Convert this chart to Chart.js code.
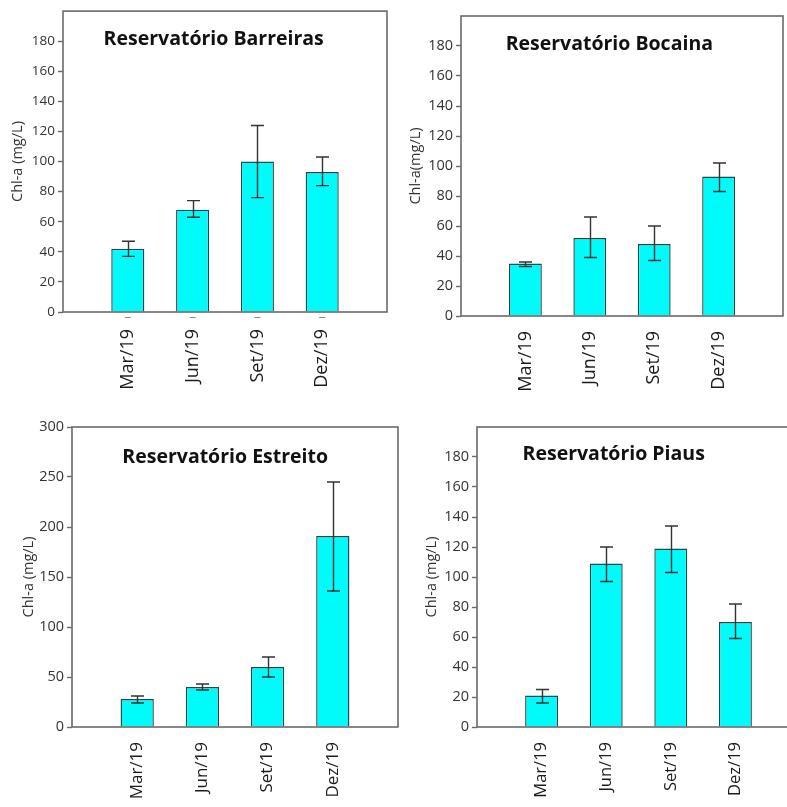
<!DOCTYPE html>
<html>
<head>
<meta charset="utf-8">
<script src="https://cdn.jsdelivr.net/npm/chart.js@4.4.1/dist/chart.umd.min.js"></script>
<style>
  html, body { margin: 0; padding: 0; background: #fff; width: 787px; height: 807px; overflow: hidden; }
  canvas { position: absolute; }
</style>
</head>
<body>
<canvas id="barreiras" width="395" height="400" style="left:0;top:0"></canvas>
<canvas id="bocaina" width="392" height="400" style="left:395px;top:0"></canvas>
<canvas id="estreito" width="400" height="407" style="left:0;top:400px"></canvas>
<canvas id="piaus" width="420" height="407" style="left:395px;top:400px"></canvas>
<script>
// Sampling campaigns
const categories = ['Mar/19', 'Jun/19', 'Set/19', 'Dez/19'];

// Chlorophyll-a means and error-bar limits per reservoir
const barreirasMean = [42, 68, 100, 93];
const barreirasLow  = [37, 63, 76, 84];
const barreirasHigh = [47, 74, 124, 103];

const bocainaMean = [35, 52, 48, 93];
const bocainaLow  = [33, 39, 37, 83];
const bocainaHigh = [36, 66, 60, 102];

const estreitoMean = [28, 40, 60, 191];
const estreitoLow  = [24, 37, 50, 136];
const estreitoHigh = [31, 43, 70, 245];

const piausMean = [21, 109, 119, 70];
const piausLow  = [16, 97, 103, 59];
const piausHigh = [25, 120, 134, 82];

// Y tick values
const ticks180 = [0, 20, 40, 60, 80, 100, 120, 140, 160, 180];
const ticks300 = [0, 50, 100, 150, 200, 250, 300];

const FONT = "'Open Sans', 'DejaVu Sans', sans-serif";

// Whiskers drawn through the value scale
const errorBars = {
  id: 'errorBars',
  afterDatasetsDraw(chart, args, opts) {
    const ctx = chart.ctx;
    const y = chart.scales.y;
    const meta = chart.getDatasetMeta(0);
    ctx.save();
    ctx.strokeStyle = '#333';
    ctx.lineWidth = 1.4;
    meta.data.forEach((bar, i) => {
      const x = Math.round(bar.x) + 0.5;
      const yl = y.getPixelForValue(opts.low[i]);
      const yh = y.getPixelForValue(opts.high[i]);
      const cap = 6.5;
      ctx.beginPath();
      ctx.moveTo(x, yl); ctx.lineTo(x, yh);
      ctx.moveTo(x - cap, yh); ctx.lineTo(x + cap, yh);
      ctx.moveTo(x - cap, yl); ctx.lineTo(x + cap, yl);
      ctx.stroke();
    });
    ctx.restore();
  }
};

// Box around the plot area and the panel heading
const frameAndHeading = {
  id: 'frameAndHeading',
  afterDraw(chart, args, opts) {
    const ctx = chart.ctx;
    const a = chart.chartArea;
    ctx.save();
    ctx.strokeStyle = '#6a6a6a';
    ctx.lineWidth = 1.6;
    ctx.strokeRect(a.left, a.top, a.right - a.left, a.bottom - a.top);
    if (opts.marks) {
      const x = chart.scales.x;
      ctx.strokeStyle = '#8a8a8a';
      ctx.lineWidth = 1;
      categories.forEach((c, i) => {
        const px = x.getPixelForValue(i + 1);
        ctx.beginPath();
        ctx.moveTo(px - 3, a.bottom + 5.5);
        ctx.lineTo(px + 3, a.bottom + 5.5);
        ctx.stroke();
      });
    }
    ctx.fillStyle = '#111';
    ctx.font = 'bold ' + opts.size + 'px ' + FONT;
    ctx.textAlign = 'center';
    ctx.textBaseline = 'alphabetic';
    ctx.fillText(opts.text, a.left + opts.dx, a.top + opts.dy);
    ctx.restore();
  }
};

function panel(id, p) {
  const points = categories.map((c, i) => ({ x: i + 1, y: p.mean[i] }));
  return new Chart(document.getElementById(id), {
    type: 'bar',
    data: {
      datasets: [{
        data: points,
        backgroundColor: '#00fbfb',
        borderColor: '#24484a',
        borderWidth: 1.4,
        barPercentage: 0.51,
        categoryPercentage: 1
      }]
    },
    options: {
      responsive: false,
      animation: false,
      layout: { padding: { top: p.top, right: p.right, left: 0, bottom: 0 } },
      plugins: {
        legend: { display: false },
        tooltip: { enabled: false },
        errorBars: { low: p.low, high: p.high },
        frameAndHeading: { text: p.title, size: p.titleSize, dx: p.titleDx, dy: p.titleDy, marks: p.marks }
      },
      scales: {
        x: {
          type: 'linear',
          min: 0,
          max: categories.length + 1,
          offset: false,
          grid: { display: false, drawTicks: false },
          border: { display: false },
          afterBuildTicks: s => { s.ticks = categories.map((c, i) => ({ value: i + 1 })); },
          afterFit: s => { s.height = p.xHeight; },
          ticks: {
            autoSkip: false,
            minRotation: 90,
            maxRotation: 90,
            padding: p.xPad,
            color: '#1a1a1a',
            font: { family: FONT, size: p.xFont },
            callback: v => categories[v - 1] || ''
          }
        },
        y: {
          min: 0,
          max: p.yMax,
          grid: { drawOnChartArea: false, drawTicks: true, tickLength: 5, tickColor: '#6a6a6a', tickWidth: 1.4 },
          border: { display: false },
          afterBuildTicks: s => { s.ticks = p.ticks.map(v => ({ value: v })); },
          afterFit: s => { s.width = p.yWidth; },
          ticks: {
            padding: 3,
            color: '#333',
            font: { family: FONT, size: p.tickFont }
          },
          title: {
            display: true,
            text: p.yTitle,
            color: '#333',
            font: { family: FONT, size: 14.5 },
            padding: { top: p.yTitlePad, bottom: 0 }
          }
        }
      }
    },
    plugins: [errorBars, frameAndHeading]
  });
}

panel('barreiras', {
  mean: barreirasMean, low: barreirasLow, high: barreirasHigh,
  title: 'Reservatório Barreiras', titleSize: 19.5, titleDx: 150.7, titleDy: 34,
  yTitle: 'Chl-a (mg/L)', yTitlePad: 9, yMax: 200, ticks: ticks180,
  top: 11, right: 8, yWidth: 63, xHeight: 88, xPad: 17, xFont: 18, tickFont: 13.5, marks: true
});

panel('bocaina', {
  mean: bocainaMean, low: bocainaLow, high: bocainaHigh,
  title: 'Reservatório Bocaina', titleSize: 19.5, titleDx: 148.3, titleDy: 34.3,
  yTitle: 'Chl-a(mg/L)', yTitlePad: 12.5, yMax: 200, ticks: ticks180,
  top: 16, right: 4, yWidth: 66, xHeight: 84, xPad: 15, xFont: 18, tickFont: 14.5, marks: false
});

panel('estreito', {
  mean: estreitoMean, low: estreitoLow, high: estreitoHigh,
  title: 'Reservatório Estreito', titleSize: 19.5, titleDx: 153.2, titleDy: 36,
  yTitle: 'Chl-a (mg/L)', yTitlePad: 20.5, yMax: 300, ticks: ticks300,
  top: 27, right: 2, yWidth: 72, xHeight: 80, xPad: 15, xFont: 17, tickFont: 14.5, marks: false
});

panel('piaus', {
  mean: piausMean, low: piausLow, high: piausHigh,
  title: 'Reservatório Piaus', titleSize: 19.5, titleDx: 136.7, titleDy: 33.3,
  yTitle: 'Chl-a (mg/L)', yTitlePad: 28.5, yMax: 200, ticks: ticks180,
  top: 27, right: 15, yWidth: 82, xHeight: 80, xPad: 15, xFont: 16.5, tickFont: 14.5, marks: false
});
</script>
</body>
</html>
